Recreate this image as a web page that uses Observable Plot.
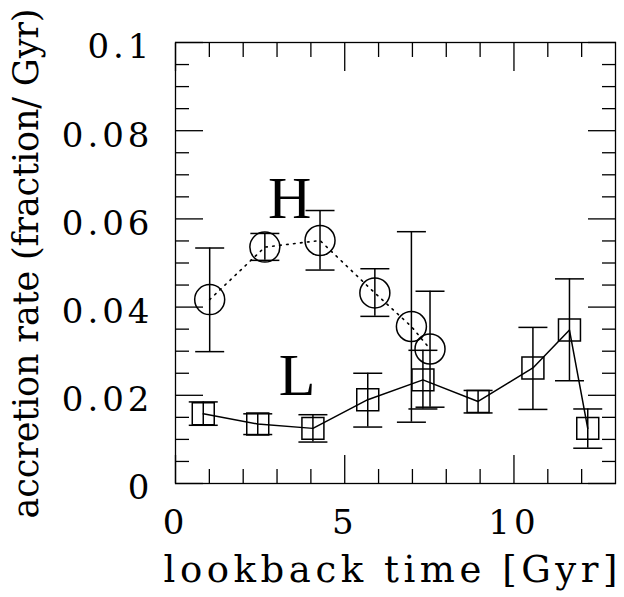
<!DOCTYPE html>
<html><head><meta charset="utf-8">
<script src="https://cdn.jsdelivr.net/npm/d3@7"></script>
<script src="https://cdn.jsdelivr.net/npm/@observablehq/plot@0.6"></script>
<style>body{margin:0;background:#fff} svg{display:block}</style>
</head><body><div id="chart"></div>
<script>
// H sample (circles, dotted line)
const hX  = [1.01, 2.64, 4.27, 5.89, 6.97, 7.52];
const hY  = [0.0417, 0.0536, 0.0551, 0.0432, 0.0356, 0.0305];
const hHi = [0.0534, 0.0567, 0.0619, 0.0487, 0.0571, 0.0436];
const hLo = [0.0299, 0.0506, 0.0484, 0.0379, 0.0139, 0.0173];
// L sample (squares, solid line)
const lX  = [0.82, 2.43, 4.06, 5.68, 7.31, 8.94, 10.56, 11.64, 12.18];
const lY  = [0.0158, 0.0135, 0.0125, 0.0190, 0.0235, 0.0186, 0.0262, 0.0348, 0.0125];
const lHi = [0.0185, 0.0158, 0.0156, 0.0250, 0.0302, 0.0211, 0.0354, 0.0464, 0.0169];
const lLo = [0.0132, 0.0111, 0.0094, 0.0128, 0.0169, 0.0160, 0.0168, 0.0233, 0.0080];
// annotations
const noteText = ["H", "L"];
const noteX = [3.37, 3.59];
const noteY = [0.0601, 0.0200];
// ticks
const xMajor = [0, 5, 10];
const xMinor = [1, 2, 3, 4, 6, 7, 8, 9, 11, 12];
const yMajor = [0, 0.02, 0.04, 0.06, 0.08, 0.1];
const yMinor = [0.005, 0.01, 0.015, 0.025, 0.03, 0.035, 0.045, 0.05, 0.055, 0.065, 0.07, 0.075, 0.085, 0.09, 0.095];
const xTitle = "lookback time [Gyr]";
const yTitle = "accretion rate (fraction/ Gyr)";

const H = hX.map((x, i) => ({x, y: hY[i], lo: hLo[i], hi: hHi[i]}));
const L = lX.map((x, i) => ({x, y: lY[i], lo: lLo[i], hi: lHi[i]}));
const notes = noteText.map((t, i) => ({t, x: noteX[i], y: noteY[i]}));

const capSymbol = {draw(ctx, size) { const r = Math.sqrt(size / Math.PI); ctx.moveTo(-r, 0); ctx.lineTo(r, 0); }};
const serif = "DejaVu Serif";
const sw = 1.3;

function caps(data) {
  return [
    Plot.ruleX(data, {x: "x", y1: "lo", y2: "hi", stroke: "#000", strokeWidth: 1.5}),
    Plot.dot(data, {x: "x", y: "lo", symbol: capSymbol, r: 14.5, stroke: "#000", strokeWidth: 1.5, fill: "none"}),
    Plot.dot(data, {x: "x", y: "hi", symbol: capSymbol, r: 14.5, stroke: "#000", strokeWidth: 1.5, fill: "none"})
  ];
}

const chart = Plot.plot({
  width: 624, height: 597,
  marginLeft: 175, marginRight: 9, marginTop: 42, marginBottom: 114,
  style: {background: "#fff", color: "#000", overflow: "visible"},
  x: {domain: [0, 13], label: null},
  y: {domain: [0, 0.1], label: null},
  marks: [
    Plot.frame({stroke: "#000", strokeWidth: sw}),
    // inward ticks on all four sides
    Plot.axisX(xMinor, {anchor: "bottom", tickSize: -14, fill: "none", label: null, strokeWidth: sw}),
    Plot.axisX(xMajor, {anchor: "bottom", tickSize: -28, fill: "none", label: null, strokeWidth: sw}),
    Plot.axisX(xMinor, {anchor: "top", tickSize: -14, fill: "none", label: null, strokeWidth: sw}),
    Plot.axisX(xMajor, {anchor: "top", tickSize: -28, fill: "none", label: null, strokeWidth: sw}),
    Plot.axisY(yMinor, {anchor: "left", tickSize: -14, fill: "none", label: null, strokeWidth: sw}),
    Plot.axisY(yMajor, {anchor: "left", tickSize: -28, fill: "none", label: null, strokeWidth: sw}),
    Plot.axisY(yMinor, {anchor: "right", tickSize: -14, fill: "none", label: null, strokeWidth: sw}),
    Plot.axisY(yMajor, {anchor: "right", tickSize: -28, fill: "none", label: null, strokeWidth: sw}),
    // tick labels
    Plot.axisX(xMajor, {anchor: "bottom", tickSize: 0, tickPadding: 26, fontSize: 34, fontFamily: serif, tickFormat: d => String(d), label: null}),
    Plot.axisY(yMajor, {anchor: "left", tickSize: 0, tickPadding: 22, dy: 5, fontSize: 34, fontFamily: serif, tickFormat: d => String(d), label: null}),
    // titles
    Plot.text([xTitle], {text: d => d, frameAnchor: "bottom", dx: -5, dy: 98, fontSize: 37, fontFamily: serif, fill: "#000"}),
    Plot.text([yTitle], {text: d => d, frameAnchor: "bottom-left", textAnchor: "start", rotate: -90, dx: -138, dy: 35, fontSize: 35, fontFamily: serif, fill: "#000"}),
    // data
    Plot.line(H, {x: "x", y: "y", stroke: "#000", strokeWidth: 1.6, strokeDasharray: "1.6 5.4"}),
    Plot.line(L, {x: "x", y: "y", stroke: "#000", strokeWidth: 1.5}),
    ...caps(H),
    ...caps(L),
    Plot.dot(H, {x: "x", y: "y", r: 15, stroke: "#000", strokeWidth: 1.5, fill: "none"}),
    Plot.dot(L, {x: "x", y: "y", symbol: "square", r: 12.4, stroke: "#000", strokeWidth: 1.5, fill: "none"}),
    Plot.text(notes, {x: "x", y: "y", text: "t", lineAnchor: "bottom", fontSize: 60, fontFamily: "Liberation Serif", fill: "#000"})
  ]
});

const svg = d3.select(chart);
svg.selectAll("text").each(function() {
  const t = d3.select(this);
  const s = this.textContent;
  if (s === xTitle) t.attr("textLength", 454).attr("lengthAdjust", "spacing");
  else if (s === yTitle) t.attr("textLength", 510).attr("lengthAdjust", "spacing");
});
svg.selectAll('g[aria-label="x-axis tick label"] text, g[aria-label="y-axis tick label"] text').style("letter-spacing", "4px");
document.getElementById("chart").appendChild(chart);
</script>
</body></html>
